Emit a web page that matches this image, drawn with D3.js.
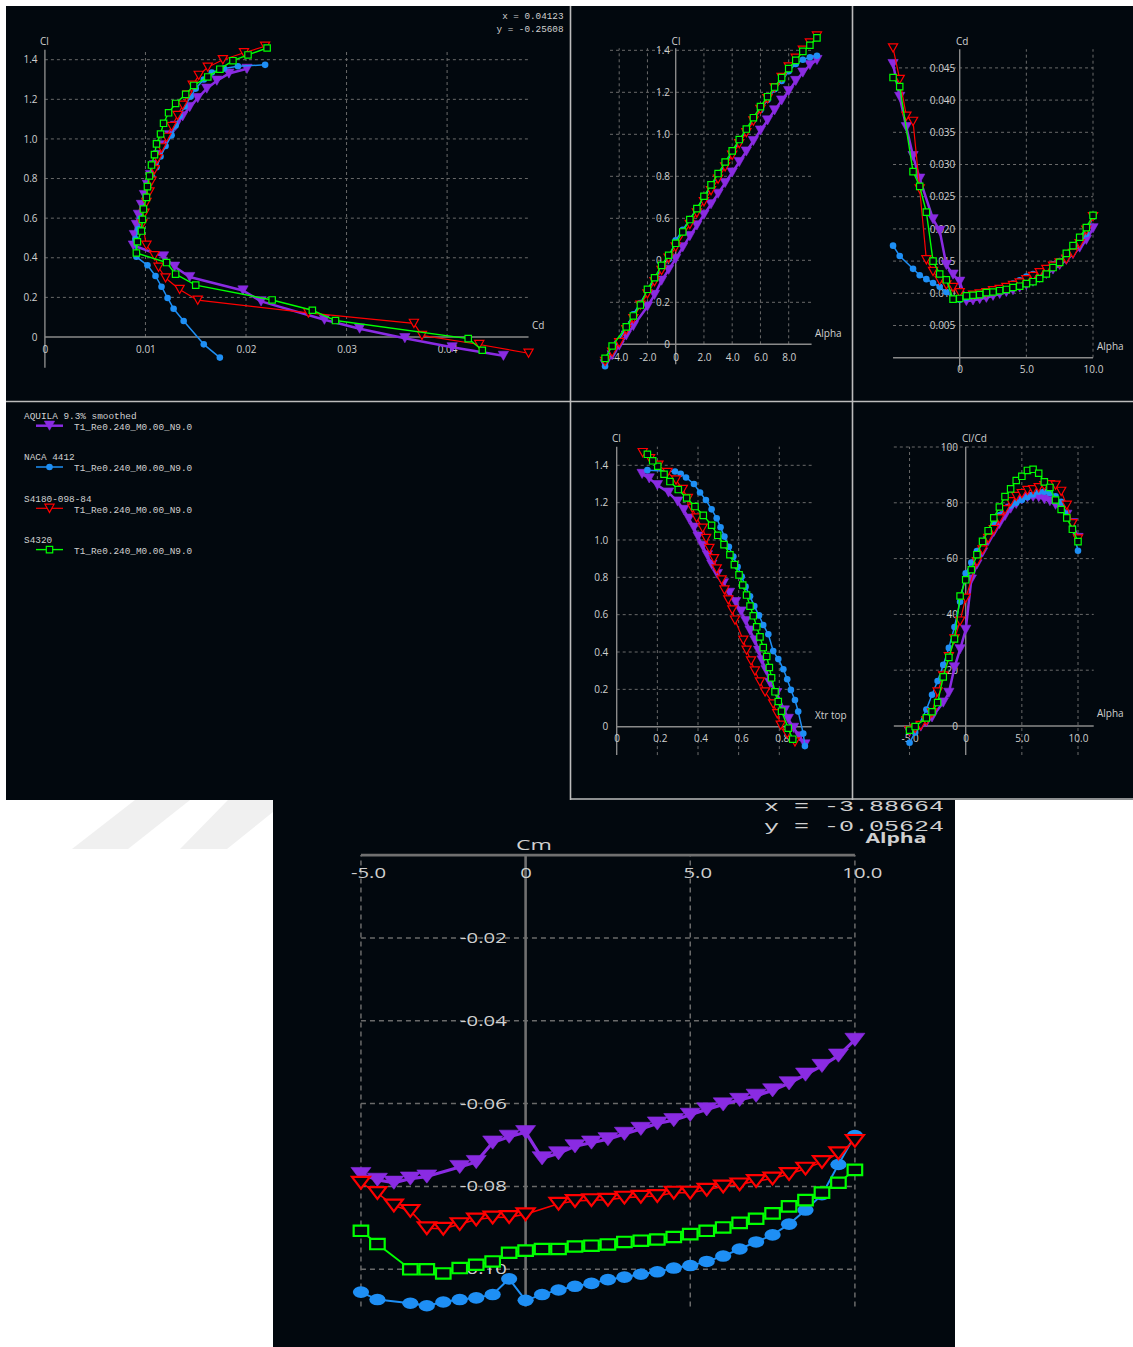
<!DOCTYPE html>
<html>
<head>
<meta charset="utf-8">
<title>Airfoil polars Re 240 000</title>
<script src="https://cdn.jsdelivr.net/npm/d3@7/dist/d3.min.js"></script>
<style>
  html, body { margin: 0; padding: 0; background: #ffffff; }
  svg { display: block; }
</style>
</head>
<body>
<svg id="chart" width="1133" height="1347"></svg>
<script>
// ---------- polar data, T1 Re 240 000, Ncrit 9 ----------
const airfoilNames = ["AQUILA 9.3% smoothed", "NACA 4412", "S4180-098-84", "S4320"];
const polarName = "T1_Re0.240_M0.00_N9.0";

// AQUILA 9.3% smoothed
const alphaAquila = [-5,-4.5,-4,-3.5,-3,-2,-1.5,-1,-0.5,0,0.5,1,1.5,2,2.5,3,3.5,4,4.5,5,5.5,6,6.5,7,7.5,8,8.5,9,9.5,10];
const clAquila   = [-0.095,-0.052,-0.006,0.042,0.087,0.180,0.235,0.303,0.355,0.407,0.462,0.515,0.566,0.617,0.667,0.717,0.768,0.818,0.868,0.918,0.968,1.018,1.066,1.114,1.161,1.206,1.254,1.294,1.330,1.354];
const cdAquila   = [0.0456,0.0405,0.0358,0.0313,0.0278,0.0215,0.0197,0.0144,0.0129,0.0118,0.0088,0.0089,0.0091,0.0093,0.0096,0.0099,0.0102,0.0105,0.0109,0.0113,0.0118,0.0124,0.0130,0.0137,0.0144,0.0152,0.0161,0.0171,0.0183,0.0201];
const clcdAquila = [-2.1,-1.3,-0.2,1.3,3.1,8.4,11.9,21.0,27.5,34.5,52.5,57.9,62.2,66.3,69.5,72.4,75.3,77.9,79.6,81.2,82.0,82.1,82.0,81.3,80.6,79.3,77.9,75.7,72.7,67.4];
const xtrAquila  = [0.926,0.900,0.870,0.844,0.825,0.787,0.754,0.735,0.715,0.698,0.680,0.656,0.635,0.612,0.585,0.555,0.525,0.495,0.468,0.446,0.423,0.400,0.380,0.355,0.330,0.300,0.255,0.200,0.160,0.125];
const cmAquila   = [-0.0770,-0.0784,-0.0791,-0.0781,-0.0776,-0.0753,-0.0741,-0.0694,-0.0680,-0.0669,-0.0732,-0.0720,-0.0703,-0.0694,-0.0686,-0.0673,-0.0661,-0.0648,-0.0640,-0.0627,-0.0614,-0.0602,-0.0591,-0.0581,-0.0568,-0.0551,-0.0530,-0.0509,-0.0484,-0.0446];

// NACA 4412
const alphaNaca = [-5,-4.5,-3.5,-3,-2.5,-2,-1.5,-1,-0.5,0,0.5,1,1.5,2,2.5,3,3.5,4,4.5,5,5.5,6,6.5,7,7.5,8,8.5,9,9.5,10];
const clNaca   = [-0.104,-0.037,0.081,0.143,0.197,0.254,0.308,0.362,0.405,0.495,0.545,0.596,0.646,0.698,0.750,0.804,0.857,0.911,0.964,1.018,1.068,1.116,1.164,1.214,1.254,1.300,1.335,1.355,1.367,1.374];
const cdNaca   = [0.0174,0.0158,0.0138,0.0128,0.0122,0.0116,0.0110,0.0102,0.0091,0.0090,0.0093,0.0095,0.0098,0.0100,0.0103,0.0107,0.0111,0.0115,0.0120,0.0126,0.0130,0.0134,0.0139,0.0145,0.0150,0.0158,0.0166,0.0178,0.0192,0.0219];
const clcdNaca = [-6.0,-2.3,5.9,11.2,16.1,21.9,28.0,35.5,44.5,54.7,58.6,62.7,66.0,69.5,72.5,75.5,77.5,79.0,80.0,81.0,82.0,83.0,84.0,84.0,83.5,82.3,80.4,76.1,71.2,62.8];
const xtrNaca  = [0.926,0.918,0.893,0.877,0.857,0.839,0.820,0.795,0.770,0.746,0.721,0.700,0.677,0.656,0.634,0.615,0.595,0.574,0.552,0.530,0.511,0.492,0.467,0.439,0.410,0.380,0.341,0.315,0.287,0.151];
const cmNaca   = [-0.1055,-0.1073,-0.1082,-0.1088,-0.1079,-0.1073,-0.1069,-0.1061,-0.1023,-0.1075,-0.1061,-0.1050,-0.1041,-0.1034,-0.1025,-0.1019,-0.1012,-0.1006,-0.0997,-0.0991,-0.0981,-0.0968,-0.0951,-0.0934,-0.0917,-0.0891,-0.0857,-0.0820,-0.0747,-0.0677];

// S4180-098-84
const alphaS4180 = [-5,-4.5,-4,-3.5,-3,-2.5,-2,-1.5,-1,-0.5,0,1,1.5,2,2.5,3,3.5,4,4.5,5,5.5,6,6.5,7,7.5,8,8.5,9,9.5,10];
const clS4180   = [-0.082,-0.038,0.008,0.069,0.122,0.186,0.240,0.298,0.352,0.410,0.463,0.571,0.625,0.679,0.732,0.786,0.845,0.900,0.955,1.008,1.063,1.118,1.170,1.222,1.271,1.321,1.362,1.400,1.435,1.468];
const cdS4180   = [0.0481,0.0432,0.0375,0.0367,0.0262,0.0152,0.0134,0.0120,0.0113,0.0109,0.0101,0.0097,0.0099,0.0101,0.0104,0.0106,0.0109,0.0112,0.0116,0.0121,0.0126,0.0132,0.0137,0.0142,0.0147,0.0153,0.0162,0.0177,0.0198,0.0219];
const clcdS4180 = [-1.7,-0.9,0.2,1.9,4.7,12.2,17.9,24.8,31.2,37.6,45.8,58.9,63.1,67.2,70.4,74.2,77.5,80.4,82.3,83.3,84.4,84.7,85.4,86.1,86.5,86.3,84.1,79.1,72.5,67.0];
const xtrS4180  = [0.877,0.839,0.807,0.790,0.770,0.730,0.705,0.680,0.661,0.639,0.623,0.582,0.569,0.549,0.530,0.516,0.492,0.479,0.456,0.440,0.423,0.393,0.372,0.350,0.325,0.292,0.250,0.205,0.164,0.128];
const cmS4180   = [-0.0791,-0.0816,-0.0846,-0.0859,-0.0901,-0.0902,-0.0891,-0.0880,-0.0875,-0.0874,-0.0867,-0.0842,-0.0835,-0.0833,-0.0832,-0.0827,-0.0825,-0.0823,-0.0815,-0.0815,-0.0808,-0.0800,-0.0795,-0.0787,-0.0781,-0.0770,-0.0757,-0.0741,-0.0720,-0.0690];

// S4320
const alphaS4320 = [-5,-4.5,-3.5,-3,-2.5,-2,-1.5,-1,-0.5,0,0.5,1,1.5,2,2.5,3,3.5,4,4.5,5,5.5,6,6.5,7,7.5,8,8.5,9,9.5,10];
const clS4320   = [-0.067,-0.008,0.083,0.135,0.187,0.262,0.317,0.376,0.424,0.481,0.535,0.594,0.646,0.705,0.759,0.813,0.868,0.921,0.975,1.025,1.079,1.132,1.179,1.225,1.270,1.313,1.352,1.395,1.424,1.459];
const cdS4320   = [0.0435,0.0421,0.0289,0.0266,0.0226,0.0150,0.0130,0.0121,0.0091,0.0092,0.0096,0.0097,0.0098,0.0101,0.0102,0.0104,0.0106,0.0109,0.0111,0.0115,0.0118,0.0123,0.0130,0.0140,0.0148,0.0162,0.0174,0.0187,0.0202,0.0221];
const clcdS4320 = [-1.5,-0.2,2.9,5.1,8.4,17.6,24.6,31.2,46.6,52.4,56.0,61.4,66.2,70.0,74.6,78.5,82.2,85.0,88.0,89.5,91.6,92.0,90.6,87.5,85.5,81.0,77.6,74.6,70.5,66.1];
const xtrS4320  = [0.866,0.844,0.811,0.795,0.779,0.762,0.751,0.738,0.721,0.705,0.689,0.672,0.656,0.639,0.620,0.602,0.579,0.557,0.528,0.497,0.467,0.426,0.385,0.344,0.303,0.262,0.233,0.202,0.177,0.151];
const cmS4320   = [-0.0907,-0.0939,-0.1000,-0.1000,-0.1010,-0.0997,-0.0989,-0.0981,-0.0960,-0.0955,-0.0951,-0.0951,-0.0945,-0.0943,-0.0940,-0.0934,-0.0931,-0.0928,-0.0922,-0.0915,-0.0907,-0.0899,-0.0888,-0.0878,-0.0865,-0.0848,-0.0833,-0.0815,-0.0791,-0.0760];

// tick values
const ticksCdPolar = [0, 0.01, 0.02, 0.03, 0.04];
const ticksCl      = [0, 0.2, 0.4, 0.6, 0.8, 1.0, 1.2, 1.4];
const ticksAlphaCl = [-4, -2, 0, 2, 4, 6, 8];
const ticksCd      = [0.005, 0.010, 0.015, 0.020, 0.025, 0.030, 0.035, 0.040, 0.045];
const ticksAlphaCd = [0, 5, 10];
const ticksXtr     = [0, 0.2, 0.4, 0.6, 0.8];
const ticksClCd    = [0, 20, 40, 60, 80, 100];
const ticksAlpha   = [-5, 0, 5, 10];
const ticksCm      = [-0.02, -0.04, -0.06, -0.08, -0.10];

// cursor read-outs
const cursorPolar = ["x =   0.04123", "y =  -0.25608"];
const cursorCm    = ["x =  -3.88664", "y =  -0.05624"];

// ---------- styles ----------
const BG = "#02080e", GRID = "#6a6a6a", AXIS = "#8a8a8a", TEXT = "#d0d0d0", FRAME = "#bcbcbc";
const SANS = '"Open Sans", "Noto Sans", "DejaVu Sans", sans-serif';
const MONO = '"Liberation Mono", "DejaVu Sans Mono", monospace';

const series = [
  { alpha: alphaAquila, cl: clAquila, cd: cdAquila, clcd: clcdAquila, xtr: xtrAquila, cm: cmAquila,
    color: "#8a2be2", shape: "tri", filled: true, lw: 2.5, size: 1.12 },
  { alpha: alphaNaca, cl: clNaca, cd: cdNaca, clcd: clcdNaca, xtr: xtrNaca, cm: cmNaca,
    color: "#1e8ff5", shape: "circle", filled: true, lw: 1.5, size: 1 },
  { alpha: alphaS4180, cl: clS4180, cd: cdS4180, clcd: clcdS4180, xtr: xtrS4180, cm: cmS4180,
    color: "#ff0000", shape: "tri", filled: false, lw: 1.2, size: 1 },
  { alpha: alphaS4320, cl: clS4320, cd: cdS4320, clcd: clcdS4320, xtr: xtrS4320, cm: cmS4320,
    color: "#00ff00", shape: "square", filled: false, lw: 1.4, size: 1 }
];

const svg = d3.select("#chart");

// faint watermark stripes on the white margin
svg.append("g").attr("fill", "#f0f0f0").selectAll("polygon")
  .data([[[135,800],[190,800],[128,849],[72,849]], [[228,800],[273,800],[273,812],[227,849],[180,849]]])
  .join("polygon").attr("points", d => d.map(p => p.join(",")).join(" "));

// dark panels and frames
svg.append("rect").attr("x", 6).attr("y", 6).attr("width", 1127).attr("height", 794).attr("fill", BG);
svg.append("rect").attr("x", 273).attr("y", 800).attr("width", 682).attr("height", 547).attr("fill", BG);
svg.append("g").attr("stroke", FRAME).attr("stroke-width", 1.6).selectAll("line")
  .data([[570.5,6,570.5,800],[852.5,6,852.5,800],[6,401.5,1133,401.5],[570,799,1133,799]])
  .join("line").attr("x1", d => d[0]).attr("y1", d => d[1]).attr("x2", d => d[2]).attr("y2", d => d[3]);

// marker shapes
function markerPath(shape, cx, cy, hx, hy) {
  if (shape === "tri") return `M${cx-hx},${cy-hy}L${cx+hx},${cy-hy}L${cx},${cy+hy}Z`;
  return `M${cx-hx},${cy-hy}h${2*hx}v${2*hy}h${-2*hx}Z`;
}

function drawMarkers(g, pts, s, m) {
  const k = s.size;
  if (s.shape === "circle") {
    g.selectAll(null).data(pts).join("ellipse")
      .attr("cx", d => d[0]).attr("cy", d => d[1])
      .attr("rx", m.r * m.st * k).attr("ry", m.r * k).attr("fill", s.color);
  } else {
    const hx = (s.shape === "tri" ? m.tx : m.sq) * m.st * k;
    const hy = (s.shape === "tri" ? m.ty : m.sq) * k;
    g.selectAll(null).data(pts).join("path")
      .attr("d", d => markerPath(s.shape, d[0], d[1], hx, hy))
      .attr("fill", s.filled ? s.color : BG)
      .attr("stroke", s.color)
      .attr("stroke-width", s.filled ? 0.6 : m.sw)
      .attr("stroke-linejoin", "miter");
  }
}

function buildPlot(cfg) {
  const g = svg.append("g");
  const x = d3.scaleLinear().domain(cfg.xd).range(cfg.xr);
  const y = d3.scaleLinear().domain(cfg.yd).range(cfg.yr);
  const st = cfg.stretch || 1;
  const axisColor = cfg.axisColor || AXIS;

  // dashed grid
  g.append("g").selectAll("line").data(cfg.hGrid).join("line")
    .attr("x1", x(cfg.xAxis[0])).attr("x2", x(cfg.xAxis[1]))
    .attr("y1", d => y(d)).attr("y2", d => y(d))
    .attr("stroke", GRID).attr("stroke-width", cfg.gridW).attr("stroke-dasharray", cfg.dash);
  g.append("g").selectAll("line").data(cfg.vGrid).join("line")
    .attr("x1", d => x(d)).attr("x2", d => x(d))
    .attr("y1", y(cfg.vSpan[0])).attr("y2", y(cfg.vSpan[1]))
    .attr("stroke", GRID).attr("stroke-width", cfg.gridW).attr("stroke-dasharray", cfg.dash);

  // axis lines crossing at the origin
  g.append("line")
    .attr("x1", x(cfg.xAxis[0])).attr("x2", x(cfg.xAxis[1]))
    .attr("y1", y(cfg.xAt)).attr("y2", y(cfg.xAt))
    .attr("stroke", axisColor).attr("stroke-width", cfg.axisW);
  g.append("line")
    .attr("x1", x(cfg.yAt)).attr("x2", x(cfg.yAt))
    .attr("y1", y(cfg.yAxis[0])).attr("y2", y(cfg.yAxis[1]))
    .attr("stroke", axisColor).attr("stroke-width", cfg.axisW);

  // tick labels
  const gx = g.append("g").attr("transform", `translate(0,${y(cfg.xAt)})`)
    .call(d3.axisBottom(x).tickValues(cfg.xTicks).tickFormat(cfg.xFmt).tickSize(0).tickPadding(cfg.xPad));
  const gy = g.append("g").attr("transform", `translate(${x(cfg.yAt)},0)`)
    .call(d3.axisLeft(y).tickValues(cfg.yTicks).tickFormat(cfg.yFmt).tickSize(0).tickPadding(cfg.yPad));
  [gx, gy].forEach(a => {
    a.select(".domain").remove();
    a.attr("font-family", SANS).attr("font-size", cfg.fs);
    a.selectAll("text").attr("fill", TEXT);
    if (st !== 1) a.selectAll("text").attr("transform", `scale(${st},1)`);
  });
  if (cfg.xDx) gx.selectAll("text").attr("x", d => cfg.xDx(d) / st);

  // axis titles
  cfg.titles.forEach(t => {
    const el = g.append("text").attr("x", t.x).attr("y", t.y)
      .attr("text-anchor", t.anchor || "start")
      .attr("font-family", SANS).attr("font-size", t.fs || cfg.fs)
      .attr("font-weight", t.weight || 400)
      .attr("fill", TEXT).text(t.text);
    if (t.len) el.attr("textLength", t.len).attr("lengthAdjust", "spacingAndGlyphs");
  });

  // curves
  const line = d3.line().x(d => x(d[0])).y(d => y(d[1]));
  series.forEach(s => {
    const data = s.alpha.map((a, i) => [s[cfg.xKey][i], s[cfg.yKey][i]]);
    g.append("path").datum(data).attr("d", line)
      .attr("fill", "none").attr("stroke", s.color)
      .attr("stroke-width", s.lw * cfg.lwScale).attr("stroke-linejoin", "round");
    drawMarkers(g.append("g"), data.map(d => [x(d[0]), y(d[1])]), s, cfg.marker);
  });
  return g;
}

const fmt1 = d => d === 0 ? "0" : d.toFixed(1);
const fmt2 = d => d === 0 ? "0" : d.toFixed(2);
const fmt3 = d => d.toFixed(3);
const fmt0 = d => d.toFixed(0);
const smallMarker = { tx: 4.6, ty: 4.1, r: 3.3, sq: 3.2, sw: 1.2, st: 1 };
const topCommon = { fs: 10, gridW: 1, dash: "3,3", axisW: 1.4, lwScale: 1, marker: smallMarker };

// Cl vs Cd
buildPlot(Object.assign({}, topCommon, {
  xKey: "cd", yKey: "cl",
  xd: [0, 0.04], xr: [44.9, 447.1], yd: [0, 1.4], yr: [337, 59.7],
  xAxis: [0, 0.0481], yAxis: [-0.155, 1.45], xAt: 0, yAt: 0,
  hGrid: ticksCl.slice(1), vGrid: ticksCdPolar.slice(1), vSpan: [0, 1.45],
  xTicks: ticksCdPolar, xFmt: fmt2, xPad: 9,
  yTicks: ticksCl, yFmt: fmt1, yPad: 7.4,
  titles: [{ text: "Cl", x: 40, y: 45 }, { text: "Cd", x: 532, y: 329 }]
}));

// Cl vs Alpha
buildPlot(Object.assign({}, topCommon, {
  xKey: "alpha", yKey: "cl",
  xd: [0, 8], xr: [675.7, 788.7], yd: [0, 1.4], yr: [344.3, 50.3],
  xAxis: [-4.65, 9.62], yAxis: [-0.095, 1.41], xAt: 0, yAt: 0,
  hGrid: ticksCl.slice(1), vGrid: ticksAlphaCl.filter(v => v !== 0), vSpan: [0, 1.41],
  xTicks: ticksAlphaCl, xFmt: fmt1, xPad: 10,
  yTicks: ticksCl, yFmt: fmt1, yPad: 5.7,
  titles: [{ text: "Cl", x: 676, y: 45, anchor: "middle" }, { text: "Alpha", x: 815, y: 337 }]
}));

// Cd vs Alpha
buildPlot(Object.assign({}, topCommon, {
  xKey: "alpha", yKey: "cd",
  xd: [0, 10], xr: [959.7, 1093], yd: [0, 0.045], yr: [357.7, 67.9],
  xAxis: [-5, 10], yAxis: [-0.002, 0.0479], xAt: 0, yAt: 0,
  hGrid: ticksCd, vGrid: [5, 10], vSpan: [0, 0.0479],
  xTicks: ticksAlphaCd, xFmt: fmt1, xPad: 8,
  yTicks: ticksCd, yFmt: fmt3, yPad: 4.4,
  titles: [{ text: "Cd", x: 956, y: 45 }, { text: "Alpha", x: 1097, y: 350 }]
}));

// Cl vs Xtr top
buildPlot(Object.assign({}, topCommon, {
  xKey: "xtr", yKey: "cl",
  xd: [0, 0.8], xr: [616.7, 779.3], yd: [0, 1.4], yr: [726.7, 465.3],
  xAxis: [0, 0.959], yAxis: [-0.152, 1.50], xAt: 0, yAt: 0,
  hGrid: ticksCl.slice(1), vGrid: ticksXtr.slice(1), vSpan: [-0.152, 1.50],
  xTicks: ticksXtr, xFmt: fmt1, xPad: 8, xDx: d => d === 0 ? 0 : 2.5,
  yTicks: ticksCl, yFmt: fmt1, yPad: 8.4,
  titles: [{ text: "Cl", x: 612, y: 442 }, { text: "Xtr top", x: 815, y: 719 }]
}));

// Cl/Cd vs Alpha
buildPlot(Object.assign({}, topCommon, {
  xKey: "alpha", yKey: "clcd",
  xd: [0, 10], xr: [965.7, 1078], yd: [0, 100], yr: [726, 447],
  xAxis: [-6.4, 11.4], yAxis: [-10.4, 100.1], xAt: 0, yAt: 0,
  hGrid: ticksClCd.slice(1), vGrid: [-5, 5, 10], vSpan: [-10.4, 100.1],
  xTicks: ticksAlpha, xFmt: fmt1, xPad: 9,
  yTicks: ticksClCd, yFmt: fmt0, yPad: 7.7,
  titles: [{ text: "Cl/Cd", x: 962, y: 442 }, { text: "Alpha", x: 1097, y: 717 }]
}));

// Cm vs Alpha (enlarged view, stretched horizontally)
buildPlot({
  xKey: "alpha", yKey: "cm",
  xd: [0, 10], xr: [525.6, 854.9], yd: [0, -0.10], yr: [855.1, 1269.3],
  xAxis: [-5, 10], yAxis: [-0.109, 0], xAt: 0, yAt: 0,
  hGrid: ticksCm, vGrid: [-5, 5, 10], vSpan: [-0.109, 0],
  xTicks: ticksAlpha, xFmt: fmt1, xPad: 13, xDx: d => d === 0 ? 0 : 7,
  yTicks: ticksCm, yFmt: fmt2, yPad: 13,
  fs: 14, stretch: 1.45, gridW: 1.5, dash: "5,4", axisW: 2.6, axisColor: "#707070", lwScale: 1.3,
  marker: { tx: 6.4, ty: 5.9, r: 5.8, sq: 5.2, sw: 2.2, st: 1.4 },
  titles: [
    { text: "Cm", x: 534, y: 850, anchor: "middle", fs: 15, len: 36 },
    { text: "Alpha", x: 896, y: 843, anchor: "middle", fs: 15, weight: 700, len: 61 }
  ]
});

// cursor read-outs
svg.append("g").attr("font-family", MONO).attr("font-size", 9.3).attr("fill", TEXT)
  .attr("text-anchor", "end").style("white-space", "pre")
  .selectAll("text").data(cursorPolar).join("text")
  .attr("x", 563.5).attr("y", (d, i) => 18.5 + i * 13).text(d => d);
svg.append("g").attr("font-family", MONO).attr("font-size", 14.5).attr("fill", TEXT)
  .attr("text-anchor", "end").style("white-space", "pre")
  .selectAll("text").data(cursorCm).join("text")
  .attr("x", 944).attr("y", (d, i) => 811 + i * 19.5)
  .attr("textLength", 180).attr("lengthAdjust", "spacingAndGlyphs").text(d => d);

// legend
const legend = svg.append("g").attr("font-family", MONO).attr("font-size", 9.4).attr("fill", TEXT);
series.forEach((s, i) => {
  const y0 = 415.7 + i * 41.3;
  legend.append("text").attr("x", 24).attr("y", y0 + 3.3).text(airfoilNames[i]);
  legend.append("line").attr("x1", 36).attr("x2", 63).attr("y1", y0 + 10).attr("y2", y0 + 10)
    .attr("stroke", s.color).attr("stroke-width", s.lw);
  drawMarkers(legend.append("g"), [[49.5, y0 + 10]], s, smallMarker);
  legend.append("text").attr("x", 74).attr("y", y0 + 14.3).text(polarName);
});
</script>
</body>
</html>
